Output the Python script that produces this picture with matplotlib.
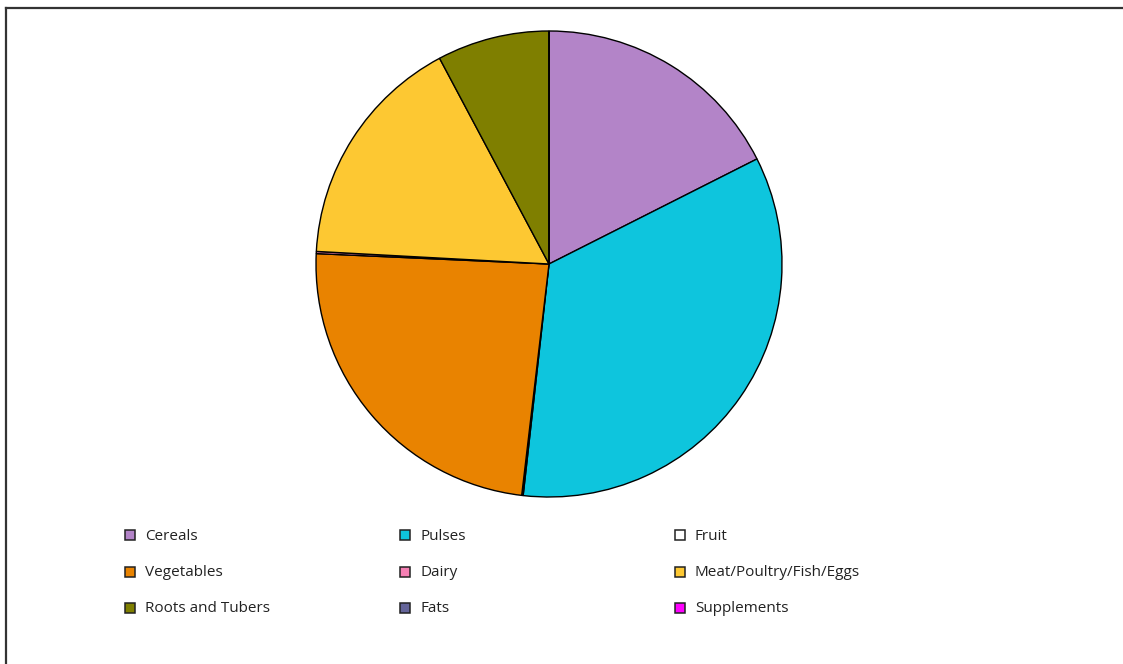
import matplotlib.pyplot as plt
from matplotlib.patches import Rectangle
from matplotlib.lines import Line2D

# food group shares (%)
groups = ["Cereals", "Pulses", "Fruit", "Vegetables", "Dairy",
          "Meat/Poultry/Fish/Eggs", "Roots and Tubers", "Fats", "Supplements"]
shares = [17.6, 34.3, 0.1, 23.9, 0.15, 16.4, 7.8, 0.0, 0.0]
colors = ["#b384c8", "#0ec5dd", "#ffffff", "#e98300", "#f57fb3",
          "#fdc832", "#7f7f00", "#65659a", "#ff00ff"]

W, H = 1123, 664
fig = plt.figure(figsize=(W / 100, H / 100), dpi=100)
ax = fig.add_axes([0, 0, 1, 1])

ax.pie(shares, colors=colors, startangle=90, counterclock=False,
       center=(549, H - 264), radius=233, frame=True,
       wedgeprops=dict(edgecolor="black", linewidth=1.0))
ax.set_xlim(0, W)
ax.set_ylim(0, H)
ax.set_aspect("equal")
ax.axis("off")

# frame lines along top and left
ax.add_line(Line2D([6, W], [H - 8, H - 8], color="#333333", lw=1.6))
ax.add_line(Line2D([6, 6], [0, H - 8], color="#333333", lw=1.6))

# legend, three columns
col_x = [125, 400, 675]
row_y = [535, 572, 608]
for i, (name, c) in enumerate(zip(groups, colors)):
    x = col_x[i % 3]
    y = H - row_y[i // 3]
    ax.add_patch(Rectangle((x, y - 5), 10, 10, facecolor=c,
                           edgecolor="#222222", lw=1.1))
    ax.text(x + 20, y - 1, name, fontsize=11, family="Open Sans",
            va="center", ha="left", color="#222222")

fig.savefig("out.png", dpi=100)
